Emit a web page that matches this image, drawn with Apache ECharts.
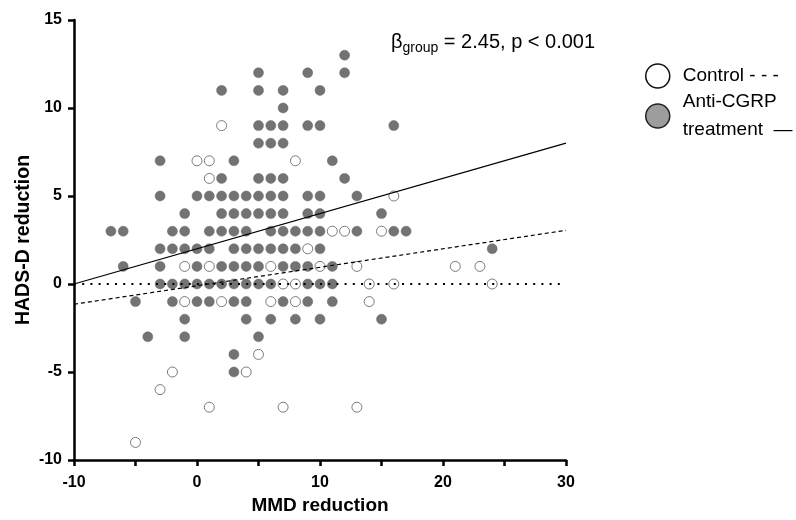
<!DOCTYPE html>
<html><head><meta charset="utf-8">
<script src="https://cdn.jsdelivr.net/npm/echarts@6/dist/echarts.min.js"></script>
<style>html,body{margin:0;padding:0;background:#fff}#c{width:796px;height:520px}</style>
</head><body><div id="c"></div>
<script>
// Axis tick labels
const xTickLabels = [-10, 0, 10, 20, 30];
const yTickLabels = [-10, -5, 0, 5, 10, 15];

// Control group points [MMD reduction, HADS-D reduction]
const controlPoints = [
  [2, 9],
  [0, 7], [1, 7], [8, 7],
  [1, 6],
  [16, 5],
  [11, 3], [12, 3], [15, 3],
  [9, 2],
  [-1, 1], [1, 1], [6, 1], [10, 1], [13, 1], [21, 1], [23, 1],
  [7, 0], [8, 0], [14, 0], [16, 0], [24, 0],
  [-1, -1], [2, -1], [6, -1], [8, -1], [14, -1],
  [5, -4],
  [-2, -5], [4, -5],
  [-3, -6],
  [1, -7], [7, -7], [13, -7],
  [-5, -9]
];

// Anti-CGRP treatment points
const antiPoints = [
  [12, 13],
  [5, 12], [9, 12], [12, 12],
  [2, 11], [5, 11], [7, 11], [10, 11],
  [7, 10],
  [5, 9], [6, 9], [7, 9], [9, 9], [10, 9], [16, 9],
  [5, 8], [6, 8], [7, 8],
  [-3, 7], [3, 7], [11, 7],
  [2, 6], [5, 6], [6, 6], [7, 6], [12, 6],
  [-3, 5], [0, 5], [1, 5], [2, 5], [3, 5], [4, 5], [5, 5], [6, 5], [7, 5], [9, 5], [10, 5], [13, 5],
  [-1, 4], [2, 4], [3, 4], [4, 4], [5, 4], [6, 4], [7, 4], [9, 4], [10, 4], [15, 4],
  [-7, 3], [-6, 3], [-2, 3], [-1, 3], [1, 3], [2, 3], [3, 3], [4, 3], [6, 3], [7, 3], [8, 3], [9, 3], [10, 3], [13, 3], [16, 3], [17, 3],
  [-3, 2], [-2, 2], [-1, 2], [0, 2], [1, 2], [3, 2], [4, 2], [5, 2], [6, 2], [7, 2], [8, 2], [10, 2], [24, 2],
  [-6, 1], [-3, 1], [0, 1], [2, 1], [3, 1], [4, 1], [5, 1], [7, 1], [8, 1], [9, 1], [11, 1],
  [-3, 0], [-2, 0], [-1, 0], [0, 0], [1, 0], [2, 0], [3, 0], [4, 0], [5, 0], [6, 0], [9, 0], [10, 0], [11, 0],
  [-5, -1], [-2, -1], [0, -1], [1, -1], [3, -1], [4, -1], [7, -1], [9, -1], [11, -1],
  [-1, -2], [4, -2], [6, -2], [8, -2], [10, -2], [15, -2],
  [-4, -3], [-1, -3], [5, -3],
  [3, -4],
  [3, -5]
];

// Regression / reference line end points
const antiLine = [[-10, 0], [30, 8]];
const controlLine = [[-10, -1.15], [30, 3.05]];
const zeroLine = [[-10, 0], [30, 0]];

const FONT = '"Liberation Sans", Arial, sans-serif';

const chart = echarts.init(document.getElementById('c'), null, {renderer: 'canvas'});
chart.setOption({
  animation: false,
  backgroundColor: '#fff',
  grid: {left: 74, right: 230, top: 20, bottom: 58, containLabel: false},
  xAxis: {
    type: 'value', min: -10, max: 30, interval: 5,
    name: 'MMD reduction', nameLocation: 'middle', nameGap: 36,
    nameTextStyle: {fontFamily: FONT, fontSize: 19, fontWeight: 'bold', color: '#000'},
    axisLine: {onZero: false, lineStyle: {color: '#000', width: 2.5}},
    axisTick: {show: true, length: 6, lineStyle: {color: '#000', width: 2.5}},
    axisLabel: {
      fontFamily: FONT, fontSize: 16, fontWeight: 'bold', color: '#000', margin: 15,
      formatter: v => xTickLabels.includes(v) ? String(v) : ''
    },
    splitLine: {show: false}
  },
  yAxis: {
    type: 'value', min: -10, max: 15, interval: 5,
    name: 'HADS-D reduction', nameLocation: 'middle', nameGap: 40, nameRotate: 90,
    nameMoveOverlap: false,
    nameTextStyle: {fontFamily: FONT, fontSize: 19.5, fontWeight: 'bold', color: '#000'},
    axisLine: {onZero: false, lineStyle: {color: '#000', width: 2.5}},
    axisTick: {show: true, length: 6, lineStyle: {color: '#000', width: 2.5}},
    axisLabel: {
      fontFamily: FONT, fontSize: 16, fontWeight: 'bold', color: '#000', margin: 12,
      formatter: v => yTickLabels.includes(v) ? String(v) : ''
    },
    splitLine: {show: false}
  },
  legend: {
    orient: 'vertical', left: 645, top: 62, padding: 0,
    itemWidth: 24, itemHeight: 24, itemGap: -2, icon: 'circle',
    textStyle: {fontFamily: FONT, fontSize: 19, color: '#000', lineHeight: 28, padding: [0, 0, 0, 8]},
    formatter: n => n === 'Control' ? 'Control - - -' : 'Anti-CGRP\ntreatment  \u2014',
    data: [
      {name: 'Control', itemStyle: {color: '#fff', borderColor: '#111', borderWidth: 1.5}},
      {name: 'Anti-CGRP treatment', itemStyle: {color: '#9d9d9d', borderColor: '#222', borderWidth: 1.5}}
    ]
  },
  graphic: [{
    type: 'text', left: 391, top: 32,
    style: {
      text: '{b|\u03b2}{s|group}{b| = 2.45, p < 0.001}',
      rich: {
        b: {fontFamily: FONT, fontSize: 20, fill: '#000'},
        s: {fontFamily: FONT, fontSize: 14, fill: '#000', padding: [12, 0, 0, 0]}
      }
    }
  }],
  series: [
    {
      name: 'Control', type: 'scatter', data: controlPoints, symbol: 'circle', symbolSize: 10,
      itemStyle: {color: '#fff', borderColor: '#7a7a7a', borderWidth: 1, opacity: 1}, z: 2
    },
    {
      name: 'Anti-CGRP treatment', type: 'scatter', data: antiPoints, symbol: 'circle', symbolSize: 10,
      itemStyle: {color: '#737373', borderColor: '#6a6a6a', borderWidth: 0.5, opacity: 1}, z: 2
    },
    {
      name: 'zero', type: 'line', data: zeroLine, symbol: 'none', silent: true, z: 3,
      lineStyle: {color: '#000', width: 2.2, type: [2, 6.2]}
    },
    {
      name: 'controlFit', type: 'line', data: controlLine, symbol: 'none', silent: true, z: 3,
      lineStyle: {color: '#000', width: 1.2, type: [4, 3]}
    },
    {
      name: 'antiFit', type: 'line', data: antiLine, symbol: 'none', silent: true, z: 3,
      lineStyle: {color: '#000', width: 1.3, type: 'solid'}
    }
  ]
});
</script>
</body></html>
